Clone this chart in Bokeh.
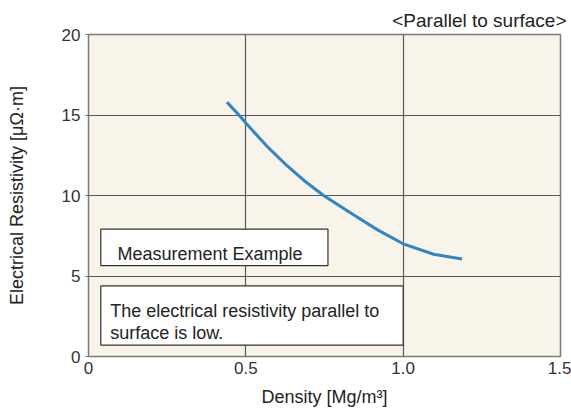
from bokeh.plotting import figure
from bokeh.models import Range1d, FixedTicker, BoxAnnotation, Label, Title
from bokeh.embed import file_html
from bokeh.resources import INLINE

density = [0.44, 0.478, 0.5, 0.565, 0.631, 0.69, 0.747, 0.842, 0.92, 1.0, 1.097, 1.187]
resistivity = [15.8, 15.0, 14.5, 13.1, 11.85, 10.85, 10.0, 8.8, 7.85, 7.0, 6.35, 6.05]
x_ticks = [0, 0.5, 1.0, 1.5]
x_tick_labels = ["0", "0.5", "1.0", "1.5"]
y_ticks = [0, 5, 10, 15, 20]
y_tick_labels = ["0", "5", "10", "15", "20"]

FONT = "Liberation Sans"
TXT = "#222222"

p = figure(width=571, height=414,
           output_backend="svg", toolbar_location=None,
           x_range=Range1d(0, 1.5), y_range=Range1d(0, 20),
           min_border_left=88, min_border_right=11, min_border_bottom=58, min_border_top=34)

p.title = Title(text="<Parallel to surface>", align="right", text_font=FONT,
                text_font_size="19px", text_font_style="normal", text_color=TXT,
                offset=-6, standoff=8)

p.background_fill_color = "#f8f4ea"
p.border_fill_color = "white"
p.outline_line_color = "#7a7a7a"
p.outline_line_width = 1.5

p.xaxis.ticker = FixedTicker(ticks=x_ticks)
p.yaxis.ticker = FixedTicker(ticks=y_ticks)
p.xaxis.major_label_overrides = {t: l for t, l in zip(x_ticks, x_tick_labels)}
p.yaxis.major_label_overrides = {t: l for t, l in zip(y_ticks, y_tick_labels)}
for ax in (p.xaxis, p.yaxis):
    ax.axis_line_color = None
    ax.minor_tick_line_color = None
    ax.major_label_text_font = FONT
    ax.major_label_text_font_size = "17px"
    ax.major_label_text_color = "#333333"
    ax.axis_label_text_font = FONT
    ax.axis_label_text_font_size = "18px"
    ax.axis_label_text_font_style = "normal"
    ax.axis_label_text_color = TXT
p.xaxis.major_tick_line_color = None
p.xaxis.major_tick_out = 0
p.xaxis.major_tick_in = 0
p.yaxis.major_tick_line_color = "#777777"
p.yaxis.major_tick_out = 3
p.yaxis.major_tick_in = 0
p.xaxis.major_label_standoff = 5
p.yaxis.major_label_standoff = 5
p.xaxis.axis_label = "Density [Mg/m³]"
p.yaxis.axis_label = "Electrical Resistivity [μΩ·m]"
p.xaxis.axis_label_standoff = 10
p.yaxis.axis_label_standoff = 32

p.grid.grid_line_color = "#5a5a5a"
p.grid.grid_line_width = 1.2

p.line(density, resistivity, line_color="#2e86c4", line_width=3)

p.add_layout(BoxAnnotation(left=0.039, right=0.761, bottom=5.64, top=7.91,
                           fill_color="white", fill_alpha=1,
                           line_color="#333333", line_alpha=1, line_width=1.2))
p.add_layout(BoxAnnotation(left=0.039, right=1.0, bottom=0.71, top=4.39,
                           fill_color="white", fill_alpha=1,
                           line_color="#333333", line_alpha=1, line_width=1.2))

p.add_layout(Label(x=0.092, y=6.34, text="Measurement Example", text_font=FONT,
                   text_font_size="18px", text_baseline="alphabetic", text_color=TXT))
p.add_layout(Label(x=0.069, y=2.84, text="The electrical resistivity parallel to",
                   text_font=FONT, text_font_size="18px", text_baseline="alphabetic",
                   text_color=TXT))
p.add_layout(Label(x=0.069, y=1.44, text="surface is low.",
                   text_font=FONT, text_font_size="18px", text_baseline="alphabetic",
                   text_color=TXT))

open("out.html", "w").write(file_html(p, INLINE))
